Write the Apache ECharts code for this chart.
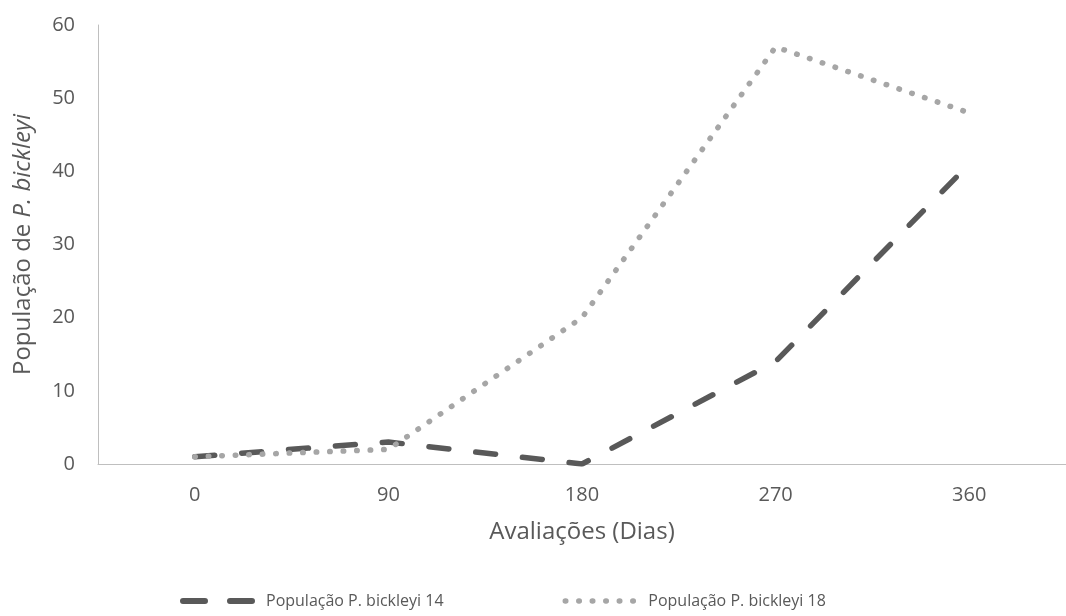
<!DOCTYPE html>
<html>
<head>
<meta charset="utf-8">
<script src="https://cdn.jsdelivr.net/npm/echarts@6/dist/echarts.min.js"></script>
<style>html,body{margin:0;padding:0;background:#fff;}#c{width:1066px;height:616px;}</style>
</head>
<body>
<div id="c"></div>
<script>
const categories = ['0', '90', '180', '270', '360'];
const pop14 = [1, 3, 0, 14, 41];
const pop18 = [1, 2, 20, 57, 48];
const seriesNames = ['População P. bickleyi 14', 'População P. bickleyi 18'];

const font = '"Open Sans", "Noto Sans", sans-serif';
const chart = echarts.init(document.getElementById('c'), null, {renderer: 'canvas'});
chart.setOption({
  backgroundColor: '#ffffff',
  animation: false,
  grid: {left: 98, right: -2, top: 25, bottom: 152},
  xAxis: {
    type: 'category',
    data: categories,
    boundaryGap: true,
    name: 'Avaliações (Dias)',
    nameLocation: 'middle',
    nameGap: 56,
    nameTextStyle: {color: '#595959', fontSize: 24, fontFamily: font},
    axisLine: {lineStyle: {color: '#bfbfbf', width: 1}},
    axisTick: {show: false},
    axisLabel: {color: '#595959', fontSize: 20, fontFamily: font, margin: 21}
  },
  yAxis: {
    type: 'value',
    min: 0, max: 60, interval: 10,
    name: '{n|População de }{i|P. bickleyi}',
    nameLocation: 'middle',
    nameGap: 63,
    nameTextStyle: {
      color: '#595959', fontSize: 24, fontFamily: font,
      rich: {
        n: {color: '#595959', fontSize: 24, fontFamily: font},
        i: {color: '#595959', fontSize: 24, fontFamily: font, fontStyle: 'italic'}
      }
    },
    axisLine: {show: true, lineStyle: {color: '#bfbfbf', width: 1}},
    axisTick: {show: false},
    splitLine: {show: false},
    axisLabel: {color: '#595959', fontSize: 20, fontFamily: font, margin: 23}
  },
  legend: {
    left: 175,
    top: 588,
    itemWidth: 78,
    itemHeight: 12,
    itemGap: 119,
    itemStyle: {opacity: 0},
    textStyle: {color: '#595959', fontSize: 16, fontFamily: font},
    data: [
      {name: seriesNames[0], lineStyle: {width: 6, type: [22, 25], cap: 'round', color: '#595959'}},
      {name: seriesNames[1], lineStyle: {width: 5.5, type: [0.5, 13], cap: 'round', color: '#a6a6a6'}}
    ]
  },
  series: [
    {
      name: seriesNames[0],
      type: 'line',
      data: pop14,
      showSymbol: false,
      symbol: 'none',
      color: '#595959',
      lineStyle: {color: '#595959', width: 5.5, type: [20, 27], cap: 'round'}
    },
    {
      name: seriesNames[1],
      type: 'line',
      data: pop18,
      showSymbol: false,
      symbol: 'none',
      color: '#a6a6a6',
      lineStyle: {color: '#a6a6a6', width: 5.5, type: [0.5, 13], cap: 'round'}
    }
  ]
});
</script>
</body>
</html>
